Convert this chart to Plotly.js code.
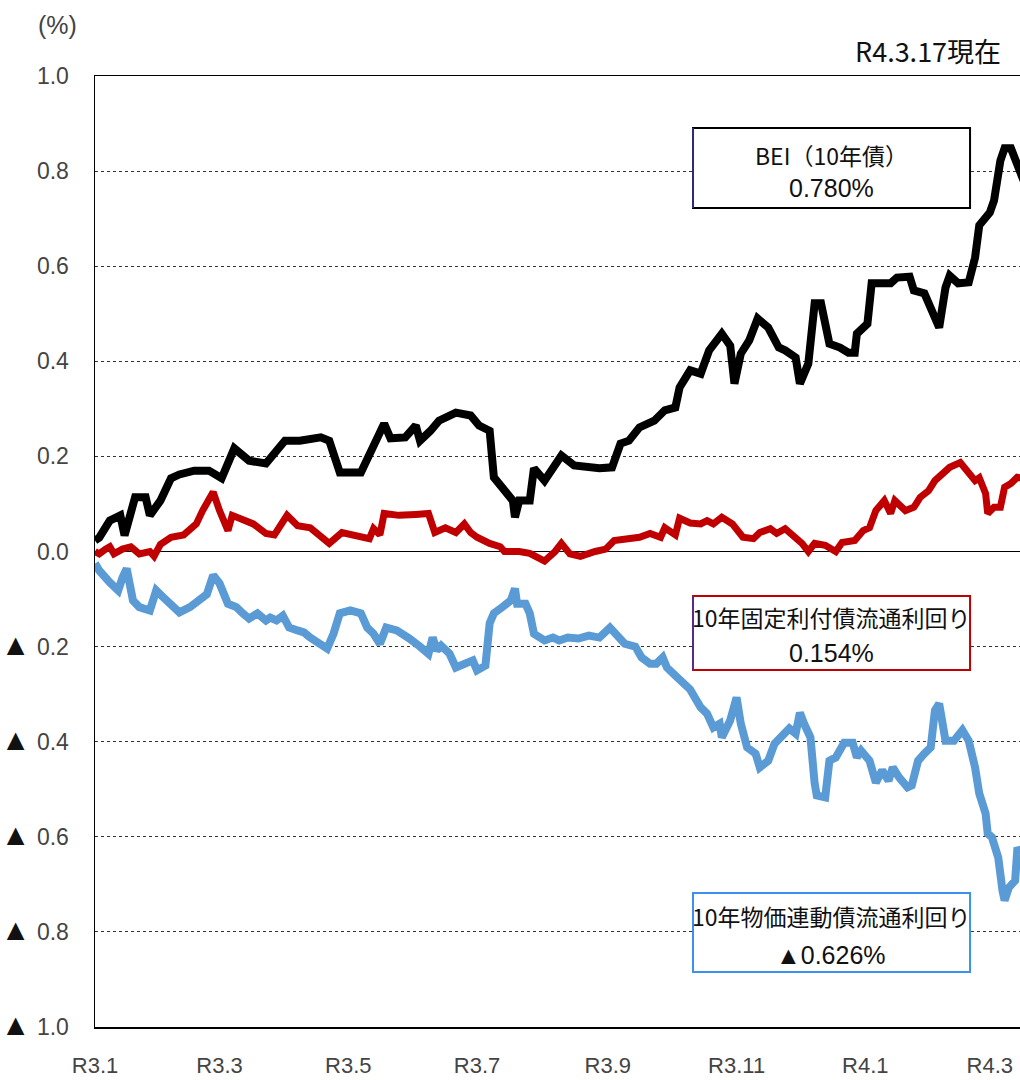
<!DOCTYPE html>
<html>
<head>
<meta charset="utf-8">
<script src="https://cdn.plot.ly/plotly-3.0.1.min.js"></script>
<style>html,body{margin:0;padding:0;background:#fff;}#chart{width:1020px;height:1080px;}</style>
</head>
<body>
<div id="chart"></div>
<script>
// Days elapsed since 2021-01-01 (R3.1.1); data ends 2022-03-17 (R4.3.17)
const tickDays = [0, 59, 120, 181, 243, 304, 365, 424];
const tickLabels = ["R3.1", "R3.3", "R3.5", "R3.7", "R3.9", "R3.11", "R4.1", "R4.3"];
const yTickVals = [1.0, 0.8, 0.6, 0.4, 0.2, 0.0, -0.2, -0.4, -0.6, -0.8, -1.0];
const yTickText = ["1.0", "0.8", "0.6", "0.4", "0.2", "0.0", "▲ 0.2", "▲ 0.4", "▲ 0.6", "▲ 0.8", "▲ 1.0"];

// BEI (10-year)
const beiDays = [0,2,7,12,14,19,24,26,31,36,40,47,54,60,66,73,81,90,97,107,111,116,126,130,137,140,147,152,154,159,163,171,178,182,187,189,194,198,199,201,206,208,213,218,221,227,239,245,249,253,258,265,270,275,277,282,287,291,297,301,303,306,310,314,319,324,327,332,334,338,341,344,348,353,357,360,361,366,368,377,380,386,388,393,397,400,403,405,409,414,417,419,424,426,429,431,434,437,440];
const beiVals = [0.023,0.029,0.065,0.076,0.034,0.114,0.114,0.076,0.107,0.154,0.162,0.170,0.170,0.154,0.217,0.191,0.185,0.233,0.233,0.240,0.233,0.166,0.166,0.202,0.269,0.238,0.240,0.265,0.233,0.254,0.275,0.292,0.286,0.265,0.254,0.156,0.128,0.107,0.072,0.107,0.107,0.175,0.149,0.181,0.202,0.181,0.175,0.177,0.227,0.233,0.261,0.275,0.297,0.303,0.345,0.381,0.374,0.423,0.458,0.433,0.353,0.416,0.444,0.490,0.471,0.429,0.423,0.408,0.353,0.395,0.522,0.522,0.437,0.429,0.418,0.418,0.458,0.479,0.564,0.564,0.576,0.578,0.549,0.543,0.507,0.471,0.555,0.580,0.564,0.566,0.618,0.686,0.713,0.738,0.822,0.848,0.848,0.812,0.780];

// 10-year fixed-rate JGB yield
const jgbDays = [0,2,5,7,9,13,17,21,26,28,31,36,42,45,48,51,56,59,63,65,69,75,81,85,91,96,102,108,111,117,124,130,132,135,137,144,152,158,161,166,171,175,178,181,187,192,194,201,206,213,218,221,225,230,237,242,246,251,258,263,268,270,275,277,282,287,290,293,297,302,307,312,315,320,323,327,332,335,338,341,346,351,354,360,364,367,370,374,377,379,384,388,391,395,398,402,405,410,412,414,417,419,422,423,426,429,431,434,437,440];
const jgbVals = [0.0,-0.005,0.005,0.01,-0.005,0.005,0.01,-0.005,0.0,-0.01,0.015,0.03,0.035,0.045,0.058,0.086,0.125,0.086,0.044,0.076,0.07,0.058,0.038,0.035,0.076,0.054,0.05,0.027,0.017,0.04,0.034,0.027,0.048,0.035,0.08,0.076,0.078,0.08,0.04,0.05,0.04,0.058,0.04,0.03,0.017,0.01,0.0,0.0,-0.004,-0.02,0.0,0.017,-0.005,-0.01,0.0,0.005,0.023,0.025,0.03,0.038,0.03,0.05,0.035,0.07,0.06,0.058,0.065,0.058,0.072,0.058,0.03,0.027,0.04,0.048,0.038,0.048,0.03,0.017,0.0,0.017,0.013,0.0,0.019,0.023,0.044,0.05,0.086,0.107,0.08,0.107,0.086,0.093,0.114,0.128,0.149,0.164,0.177,0.187,0.175,0.164,0.149,0.155,0.122,0.08,0.093,0.093,0.135,0.143,0.156,0.154];

// 10-year inflation-indexed JGB yield
const ilbDays = [0,2,7,11,13,15,18,21,26,29,32,36,40,45,50,53,56,59,63,67,70,73,77,81,83,86,89,92,96,99,102,107,110,113,116,121,126,129,132,135,138,143,146,149,154,158,160,162,164,168,171,175,179,181,185,187,189,193,197,199,200,204,206,208,213,217,220,224,229,234,239,244,248,251,256,259,263,266,269,271,275,282,287,290,293,296,297,301,304,306,309,313,315,319,322,327,329,332,334,336,339,341,342,346,348,351,355,359,361,363,367,370,373,376,378,381,385,387,390,393,396,398,400,403,407,411,414,417,419,422,423,425,428,430,431,433,436,437,440];
const ilbVals = [-0.025,-0.04,-0.065,-0.082,-0.055,-0.036,-0.103,-0.117,-0.124,-0.082,-0.095,-0.11,-0.128,-0.117,-0.097,-0.09,-0.05,-0.067,-0.11,-0.117,-0.13,-0.141,-0.13,-0.145,-0.139,-0.145,-0.135,-0.16,-0.166,-0.17,-0.181,-0.194,-0.204,-0.173,-0.13,-0.124,-0.13,-0.16,-0.173,-0.194,-0.16,-0.166,-0.177,-0.183,-0.2,-0.215,-0.181,-0.208,-0.198,-0.215,-0.244,-0.236,-0.229,-0.25,-0.24,-0.151,-0.13,-0.117,-0.103,-0.078,-0.11,-0.11,-0.13,-0.173,-0.187,-0.181,-0.187,-0.181,-0.183,-0.177,-0.181,-0.16,-0.181,-0.194,-0.2,-0.223,-0.236,-0.236,-0.223,-0.244,-0.261,-0.29,-0.328,-0.341,-0.37,-0.362,-0.391,-0.355,-0.307,-0.362,-0.412,-0.425,-0.454,-0.44,-0.404,-0.383,-0.372,-0.383,-0.339,-0.362,-0.391,-0.488,-0.513,-0.517,-0.44,-0.433,-0.402,-0.402,-0.433,-0.419,-0.44,-0.486,-0.46,-0.482,-0.454,-0.475,-0.496,-0.492,-0.44,-0.425,-0.412,-0.334,-0.32,-0.398,-0.398,-0.376,-0.398,-0.454,-0.509,-0.551,-0.593,-0.601,-0.644,-0.713,-0.734,-0.707,-0.692,-0.629,-0.626];

const sans = "'Liberation Sans', Arial, sans-serif";
const cjk = "'Noto Sans CJK JP', 'Noto Sans', sans-serif";

// enlarge the ▲ marker glyph in tick labels (styling only)
const yTickDisplay = yTickText.map(t => t.replace('▲', '<span style="font-size:30px;color:#111">▲</span>'));

function line(x, y, color, width) {
  return {x: x, y: y, type: 'scatter', mode: 'lines', line: {color: color, width: width}, hoverinfo: 'skip', showlegend: false};
}

const traces = [
  line(ilbDays, ilbVals, '#5b9bd5', 8),
  line(jgbDays, jgbVals, '#c00000', 7),
  line(beiDays, beiVals, '#000000', 8)
];

function box(y0, y1, color, leftColor) {
  const s = [{type: 'rect', xref: 'paper', yref: 'paper', x0: 0.6465, x1: 0.946, y0: y0, y1: y1,
    fillcolor: '#ffffff', line: {color: color, width: 2}, layer: 'above'}];
  if (leftColor) {
    s.push({type: 'line', xref: 'paper', yref: 'paper', x0: 0.6465, x1: 0.6465, y0: y0, y1: y1,
      line: {color: leftColor, width: 2}, layer: 'above'});
  }
  return s;
}

function label(text, y, font, size) {
  return {xref: 'paper', yref: 'paper', x: 0.796, y: y, xanchor: 'center', yanchor: 'middle',
    text: text, showarrow: false, font: {family: font, size: size, color: '#111111'}};
}

const layout = {
  width: 1020, height: 1080,
  margin: {l: 95, r: 0, t: 76, b: 53},
  paper_bgcolor: '#ffffff', plot_bgcolor: '#ffffff',
  xaxis: {
    range: [0, 438.3], tickmode: 'array', tickvals: tickDays, ticktext: tickLabels,
    showgrid: false, zeroline: false, showline: true, linecolor: '#000000', linewidth: 1.5, mirror: true,
    ticks: '', ticklabelstandoff: 18, tickfont: {family: sans, size: 22, color: '#444444'}, fixedrange: true
  },
  yaxis: {
    range: [-1, 1], tickmode: 'array', tickvals: yTickVals, ticktext: yTickDisplay,
    showgrid: true, gridcolor: '#333333', griddash: 'dot', gridwidth: 1,
    zeroline: true, zerolinecolor: '#000000', zerolinewidth: 1.5,
    showline: true, linecolor: '#000000', linewidth: 1.5,
    ticks: '', ticklabelstandoff: 20, tickfont: {family: sans, size: 23, color: '#444444'}, fixedrange: true
  },
  shapes: [].concat(
    box(0.8612, 0.9453, '#000000', '#2e2a7a'),
    box(0.3754, 0.4532, '#c00000', '#5a2a8a'),
    box(0.0578, 0.1409, '#3d8ff0', null)
  ),
  annotations: [
    {xref: 'paper', yref: 'paper', x: -0.041, y: 1.0536, xanchor: 'center', yanchor: 'middle', showarrow: false,
     text: '(%)', font: {family: sans, size: 25, color: '#444444'}},
    {xref: 'paper', yref: 'paper', x: 0.9, y: 1.004, xanchor: 'center', yanchor: 'bottom', showarrow: false,
     text: 'R4.3.17現在', font: {family: cjk, size: 27, color: '#111111'}},
    label('BEI（10年債）', 0.917, cjk, 23),
    label('0.780%', 0.882, sans, 25),
    label('10年固定利付債流通利回り', 0.431, cjk, 23),
    label('0.154%', 0.393, sans, 25),
    label('10年物価連動債流通利回り', 0.1167, cjk, 23),
    label('▲0.626%', 0.0757, sans, 25)
  ]
};

Plotly.newPlot('chart', traces, layout, {staticPlot: true, displayModeBar: false});
</script>
</body>
</html>
